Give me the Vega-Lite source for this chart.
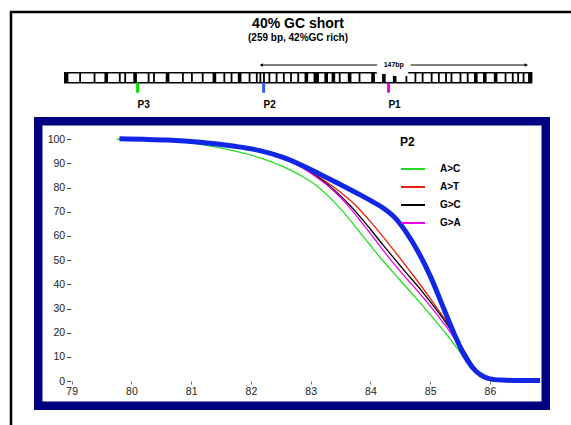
{
  "$schema": "https://vega.github.io/schema/vega-lite/v6.json",
  "width": 562,
  "height": 416,
  "autosize": "none",
  "padding": {"left": 11, "top": 12, "right": -2, "bottom": -3},
  "background": "white",
  "config": {
    "view": {"stroke": "black", "strokeWidth": 2.5, "fill": "white"},
    "font": "Liberation Sans"
  },
  "title": {
    "text": "40% GC short",
    "subtitle": "(259 bp, 42%GC rich)",
    "anchor": "middle",
    "offset": -31,
    "dx": 6,
    "font": "Liberation Sans",
    "fontSize": 14,
    "fontWeight": "bold",
    "color": "black",
    "subtitleFont": "Liberation Sans",
    "subtitleFontSize": 10,
    "subtitleFontWeight": "bold",
    "subtitleColor": "black",
    "subtitlePadding": 2
  },
  "datasets": {
    "bars": [
      {"start": 0, "end": 2}, {"start": 8, "end": 9}, {"start": 16, "end": 17}, {"start": 22, "end": 24},
      {"start": 30, "end": 31}, {"start": 33, "end": 34}, {"start": 38, "end": 40}, {"start": 46, "end": 47},
      {"start": 49, "end": 50}, {"start": 56, "end": 58}, {"start": 65, "end": 66}, {"start": 70, "end": 71},
      {"start": 76, "end": 77}, {"start": 82, "end": 84}, {"start": 88, "end": 89}, {"start": 92, "end": 93},
      {"start": 96, "end": 98}, {"start": 102, "end": 103}, {"start": 106, "end": 107}, {"start": 108, "end": 109},
      {"start": 110, "end": 111}, {"start": 113, "end": 114}, {"start": 117, "end": 118}, {"start": 121, "end": 122},
      {"start": 125, "end": 126}, {"start": 129, "end": 130}, {"start": 133, "end": 135}, {"start": 138, "end": 141},
      {"start": 144, "end": 146}, {"start": 148, "end": 150}, {"start": 152, "end": 153}, {"start": 157, "end": 159},
      {"start": 163, "end": 164}, {"start": 170, "end": 172}, {"start": 176, "end": 178}, {"start": 182, "end": 184},
      {"start": 189, "end": 190}, {"start": 194, "end": 195}, {"start": 198, "end": 199}, {"start": 203, "end": 204},
      {"start": 207, "end": 208}, {"start": 211, "end": 212}, {"start": 214, "end": 215}, {"start": 219, "end": 220},
      {"start": 223, "end": 224}, {"start": 227, "end": 229}, {"start": 232, "end": 234}, {"start": 238, "end": 240},
      {"start": 244, "end": 245}, {"start": 248, "end": 249}, {"start": 251, "end": 252}, {"start": 254, "end": 255},
      {"start": 257, "end": 259}
    ],
    "probes": [
      {"name": "P3", "pos": 40.4},
      {"name": "P2", "pos": 110.3},
      {"name": "P1", "pos": 179.6}
    ],
    "region": [
      {"start": 109, "end": 256, "label": "147bp"}
    ],
    "wt": [
      {"t": 79.8, "f": 100.2}, {"t": 80.2, "f": 100.0}, {"t": 80.6, "f": 99.7}, {"t": 81.15, "f": 98.8},
      {"t": 81.7, "f": 97.2}, {"t": 82.15, "f": 95.3}, {"t": 82.5, "f": 92.8}, {"t": 82.82, "f": 89.6},
      {"t": 83.13, "f": 85.9}, {"t": 83.49, "f": 81.4}, {"t": 83.83, "f": 77.0}, {"t": 84.02, "f": 74.4},
      {"t": 84.2, "f": 71.8}, {"t": 84.4, "f": 67.8}, {"t": 84.6, "f": 61.5}, {"t": 84.8, "f": 53.4},
      {"t": 85.0, "f": 43.5}, {"t": 85.2, "f": 31.6}, {"t": 85.4, "f": 19.6}, {"t": 85.55, "f": 11.6},
      {"t": 85.7, "f": 5.8}, {"t": 85.85, "f": 2.4}, {"t": 86.0, "f": 0.9}, {"t": 86.2, "f": 0.4},
      {"t": 86.5, "f": 0.2}, {"t": 86.84, "f": 0.2}
    ],
    "mut": [
      {"series": "A>C", "t": 79.75, "f": 100.1}, {"series": "A>C", "t": 80.3, "f": 99.8}, {"series": "A>C", "t": 80.8, "f": 99.0},
      {"series": "A>C", "t": 81.25, "f": 97.5}, {"series": "A>C", "t": 81.7, "f": 95.3}, {"series": "A>C", "t": 82.15, "f": 92.3},
      {"series": "A>C", "t": 82.5, "f": 89.1}, {"series": "A>C", "t": 82.82, "f": 85.2}, {"series": "A>C", "t": 83.1, "f": 80.8},
      {"series": "A>C", "t": 83.5, "f": 71.2}, {"series": "A>C", "t": 83.85, "f": 60.7}, {"series": "A>C", "t": 84.16, "f": 51.2},
      {"series": "A>C", "t": 84.5, "f": 41.6}, {"series": "A>C", "t": 84.83, "f": 32.4}, {"series": "A>C", "t": 85.05, "f": 26.0},
      {"series": "A>C", "t": 85.33, "f": 17.5}, {"series": "A>C", "t": 85.55, "f": 10.3}, {"series": "A>C", "t": 85.72, "f": 5.2},
      {"series": "A>C", "t": 85.86, "f": 2.4}, {"series": "A>C", "t": 86.0, "f": 0.9}, {"series": "A>C", "t": 86.2, "f": 0.3},

      {"series": "A>T", "t": 79.8, "f": 100.2}, {"series": "A>T", "t": 80.6, "f": 99.7}, {"series": "A>T", "t": 81.15, "f": 98.8},
      {"series": "A>T", "t": 81.7, "f": 97.2}, {"series": "A>T", "t": 82.15, "f": 95.3}, {"series": "A>T", "t": 82.5, "f": 92.8},
      {"series": "A>T", "t": 82.82, "f": 89.3}, {"series": "A>T", "t": 83.1, "f": 85.0}, {"series": "A>T", "t": 83.43, "f": 79.4},
      {"series": "A>T", "t": 83.77, "f": 72.2}, {"series": "A>T", "t": 84.04, "f": 64.8}, {"series": "A>T", "t": 84.33, "f": 56.0},
      {"series": "A>T", "t": 84.66, "f": 45.5}, {"series": "A>T", "t": 85.0, "f": 34.2}, {"series": "A>T", "t": 85.33, "f": 22.2},
      {"series": "A>T", "t": 85.55, "f": 12.4}, {"series": "A>T", "t": 85.7, "f": 6.1}, {"series": "A>T", "t": 85.85, "f": 2.5},
      {"series": "A>T", "t": 86.0, "f": 0.9}, {"series": "A>T", "t": 86.2, "f": 0.3},

      {"series": "G>C", "t": 79.8, "f": 100.2}, {"series": "G>C", "t": 80.6, "f": 99.7}, {"series": "G>C", "t": 81.15, "f": 98.8},
      {"series": "G>C", "t": 81.7, "f": 97.2}, {"series": "G>C", "t": 82.15, "f": 95.3}, {"series": "G>C", "t": 82.5, "f": 92.7},
      {"series": "G>C", "t": 82.82, "f": 89.0}, {"series": "G>C", "t": 83.1, "f": 84.6}, {"series": "G>C", "t": 83.32, "f": 80.6},
      {"series": "G>C", "t": 83.5, "f": 76.6}, {"series": "G>C", "t": 83.66, "f": 72.6}, {"series": "G>C", "t": 83.85, "f": 67.3},
      {"series": "G>C", "t": 84.0, "f": 62.8}, {"series": "G>C", "t": 84.21, "f": 56.3}, {"series": "G>C", "t": 84.55, "f": 46.2},
      {"series": "G>C", "t": 84.88, "f": 36.6}, {"series": "G>C", "t": 85.21, "f": 26.0}, {"series": "G>C", "t": 85.44, "f": 17.5},
      {"series": "G>C", "t": 85.6, "f": 11.2}, {"series": "G>C", "t": 85.72, "f": 6.4}, {"series": "G>C", "t": 85.86, "f": 2.5},
      {"series": "G>C", "t": 86.0, "f": 0.9}, {"series": "G>C", "t": 86.2, "f": 0.3},

      {"series": "G>A", "t": 79.8, "f": 100.2}, {"series": "G>A", "t": 80.6, "f": 99.7}, {"series": "G>A", "t": 81.15, "f": 98.8},
      {"series": "G>A", "t": 81.7, "f": 97.2}, {"series": "G>A", "t": 82.15, "f": 95.3}, {"series": "G>A", "t": 82.5, "f": 92.6},
      {"series": "G>A", "t": 82.82, "f": 88.8}, {"series": "G>A", "t": 83.1, "f": 84.3}, {"series": "G>A", "t": 83.32, "f": 80.1},
      {"series": "G>A", "t": 83.5, "f": 75.9}, {"series": "G>A", "t": 83.66, "f": 71.5}, {"series": "G>A", "t": 83.85, "f": 65.7},
      {"series": "G>A", "t": 84.0, "f": 61.0}, {"series": "G>A", "t": 84.24, "f": 53.2}, {"series": "G>A", "t": 84.55, "f": 43.9},
      {"series": "G>A", "t": 84.88, "f": 34.6}, {"series": "G>A", "t": 85.21, "f": 24.4}, {"series": "G>A", "t": 85.38, "f": 18.6},
      {"series": "G>A", "t": 85.55, "f": 11.4}, {"series": "G>A", "t": 85.7, "f": 5.9}, {"series": "G>A", "t": 85.85, "f": 2.4},
      {"series": "G>A", "t": 86.0, "f": 0.9}, {"series": "G>A", "t": 86.2, "f": 0.3}
    ]
  },
  "layer": [
    {
      "layer": [
        {
          "data": {"values": [{}]},
          "mark": {"type": "rect", "fill": "white", "stroke": "black", "strokeWidth": 1.5},
          "encoding": {
            "x": {"datum": 0, "type": "quantitative", "scale": {"domain": [-29.84, 281.92]}, "axis": null},
            "x2": {"datum": 259},
            "y": {"datum": 0, "type": "quantitative", "scale": {"domain": [-34.53, 7.07]}, "axis": null},
            "y2": {"datum": 1}
          }
        },
        {
          "data": {"name": "bars"},
          "mark": {"type": "rect", "fill": "black"},
          "encoding": {
            "x": {"field": "start", "type": "quantitative", "scale": {"domain": [-29.84, 281.92]}, "axis": null},
            "x2": {"field": "end"},
            "y": {"datum": 0, "type": "quantitative", "scale": {"domain": [-34.53, 7.07]}, "axis": null},
            "y2": {"datum": 1}
          }
        },
        {
          "data": {"name": "probes"},
          "mark": {"type": "rule", "strokeWidth": 3},
          "encoding": {
            "x": {"field": "pos", "type": "quantitative", "scale": {"domain": [-29.84, 281.92]}, "axis": null},
            "y": {"datum": 0, "type": "quantitative", "scale": {"domain": [-34.53, 7.07]}, "axis": null},
            "y2": {"datum": -1},
            "color": {"field": "name", "type": "nominal", "scale": {"domain": ["P3", "P2", "P1"], "range": ["#00dd00", "#3360f0", "#ee00ee"]}, "legend": null}
          }
        },
        {
          "data": {"name": "probes"},
          "mark": {"type": "text", "fontSize": 10, "fontWeight": "bold", "dx": 6, "baseline": "middle", "align": "center", "color": "black"},
          "encoding": {
            "x": {"field": "pos", "type": "quantitative", "scale": {"domain": [-29.84, 281.92]}, "axis": null},
            "y": {"datum": -2.23, "type": "quantitative", "scale": {"domain": [-34.53, 7.07]}, "axis": null},
            "text": {"field": "name"}
          }
        },
        {
          "data": {"name": "region"},
          "mark": {"type": "rule", "strokeWidth": 1, "color": "black"},
          "encoding": {
            "x": {"field": "start", "type": "quantitative", "scale": {"domain": [-29.84, 281.92]}, "axis": null},
            "x2": {"field": "end"},
            "y": {"datum": 1.77, "type": "quantitative", "scale": {"domain": [-34.53, 7.07]}, "axis": null}
          }
        },
        {
          "data": {"name": "region"},
          "mark": {"type": "point", "shape": "triangle-left", "filled": true, "size": 14, "color": "black", "opacity": 1},
          "encoding": {
            "x": {"field": "start", "type": "quantitative", "scale": {"domain": [-29.84, 281.92]}, "axis": null},
            "y": {"datum": 1.77, "type": "quantitative", "scale": {"domain": [-34.53, 7.07]}, "axis": null}
          }
        },
        {
          "data": {"name": "region"},
          "mark": {"type": "point", "shape": "triangle-right", "filled": true, "size": 14, "color": "black", "opacity": 1},
          "encoding": {
            "x": {"field": "end", "type": "quantitative", "scale": {"domain": [-29.84, 281.92]}, "axis": null},
            "y": {"datum": 1.77, "type": "quantitative", "scale": {"domain": [-34.53, 7.07]}, "axis": null}
          }
        },
        {
          "data": {"name": "region"},
          "transform": [{"calculate": "(datum.start + datum.end) / 2", "as": "mid"}],
          "mark": {"type": "text", "fontSize": 7, "fontWeight": "bold", "stroke": "white", "strokeWidth": 14, "color": "white", "baseline": "middle"},
          "encoding": {
            "x": {"field": "mid", "type": "quantitative", "scale": {"domain": [-29.84, 281.92]}, "axis": null},
            "y": {"datum": 1.77, "type": "quantitative", "scale": {"domain": [-34.53, 7.07]}, "axis": null},
            "text": {"field": "label"}
          }
        },
        {
          "data": {"name": "region"},
          "transform": [{"calculate": "(datum.start + datum.end) / 2", "as": "mid"}],
          "mark": {"type": "text", "fontSize": 7, "fontWeight": "bold", "color": "black", "baseline": "middle"},
          "encoding": {
            "x": {"field": "mid", "type": "quantitative", "scale": {"domain": [-29.84, 281.92]}, "axis": null},
            "y": {"datum": 1.77, "type": "quantitative", "scale": {"domain": [-34.53, 7.07]}, "axis": null},
            "text": {"field": "label"}
          }
        }
      ]
    },
    {
      "layer": [
        {
          "data": {"values": [{}]},
          "mark": {"type": "rect", "fill": "white", "stroke": "#000080", "strokeWidth": 8.5},
          "encoding": {
            "x": {
              "datum": 78.44, "type": "quantitative",
              "scale": {"domain": [77.984, 87.39]},
              "axis": {"orient": "bottom", "offset": -47, "values": [79, 80, 81, 82, 83, 84, 85, 86], "format": "d",
                       "domain": false, "grid": false, "ticks": true, "tickSize": 3, "tickColor": "#777", "tickWidth": 1,
                       "labelFont": "Liberation Sans", "labelFontSize": 10.5, "labelColor": "#222", "labelPadding": 2,
                       "labelFlush": false, "labelOverlap": false, "labelBound": false, "title": null, "zindex": 1}
            },
            "x2": {"datum": 86.934},
            "y": {
              "datum": 107.47, "type": "quantitative",
              "scale": {"domain": [-19.44, 152.67]},
              "axis": {"orient": "left", "offset": -59.7, "values": [0, 10, 20, 30, 40, 50, 60, 70, 80, 90, 100], "format": "d",
                       "domain": false, "grid": false, "ticks": true, "tickSize": 4, "tickColor": "#444", "tickWidth": 1,
                       "labelFont": "Liberation Sans", "labelFontSize": 10.5, "labelColor": "#222", "labelPadding": 2,
                       "labelFlush": false, "labelOverlap": false, "labelBound": false, "title": null, "zindex": 1}
            },
            "y2": {"datum": -10.24}
          }
        },
        {
          "data": {"name": "mut"},
          "mark": {"type": "line", "strokeWidth": 1.3, "interpolate": "monotone"},
          "encoding": {
            "x": {"field": "t", "type": "quantitative", "scale": {"domain": [77.984, 87.39]}},
            "y": {"field": "f", "type": "quantitative", "scale": {"domain": [-19.44, 152.67]}},
            "color": {
              "field": "series", "type": "nominal",
              "scale": {"domain": ["A>C", "A>T", "G>C", "G>A"], "range": ["#22dd22", "#e8200c", "#000000", "#ee00ee"]},
              "legend": {
                "orient": "none", "legendX": 389, "legendY": 125, "title": "P2",
                "titleFont": "Liberation Sans", "titleFontSize": 12, "titleFontWeight": "bold", "titleColor": "black", "titlePadding": 7,
                "labelFont": "Liberation Sans", "labelFontSize": 10, "labelFontWeight": "bold", "labelColor": "black", "labelOffset": 14,
                "symbolType": "stroke", "symbolSize": 576, "symbolStrokeWidth": 2, "rowPadding": -4, "padding": 0
              }
            }
          }
        },
        {
          "data": {"name": "wt"},
          "mark": {"type": "line", "strokeWidth": 5, "interpolate": "monotone", "color": "#1028e6"},
          "encoding": {
            "x": {"field": "t", "type": "quantitative", "scale": {"domain": [77.984, 87.39]}},
            "y": {"field": "f", "type": "quantitative", "scale": {"domain": [-19.44, 152.67]}}
          }
        }
      ]
    }
  ],
  "resolve": {"scale": {"x": "independent", "y": "independent", "color": "independent"}}
}
